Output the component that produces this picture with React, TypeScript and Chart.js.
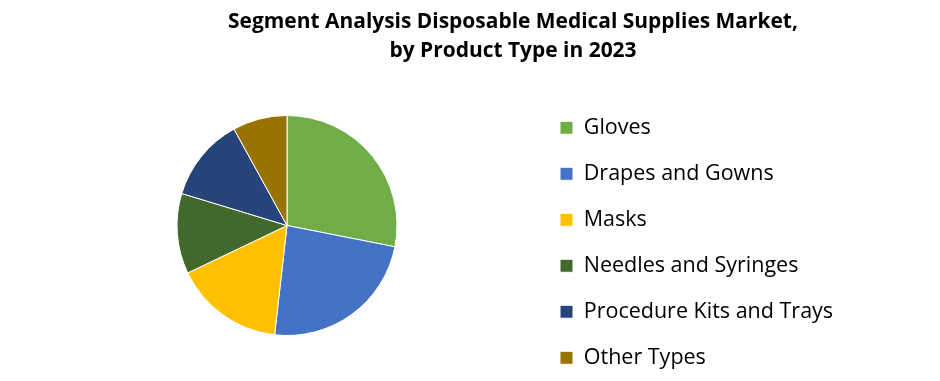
import { useEffect, useRef } from "react";
import { Chart, registerables } from "chart.js";

Chart.register(...registerables);

const TITLE_LINES = [
  "Segment Analysis Disposable Medical Supplies Market,",
  "by Product Type in 2023",
];
const CATEGORIES = [
  "Gloves",
  "Drapes and Gowns",
  "Masks",
  "Needles and Syringes",
  "Procedure Kits and Trays",
  "Other Types",
];
const SHARES = [28.1, 23.7, 16.1, 11.8, 12.3, 8.0];
const COLORS = ["#70AD47", "#4472C4", "#FFC000", "#43682B", "#264478", "#997300"];

const FONT = "'Open Sans', 'Noto Sans', sans-serif";

export default function App() {
  const ref = useRef<HTMLCanvasElement | null>(null);
  useEffect(() => {
    if (!ref.current) return;
    // measure fonts to fit the reference text widths
    const m = document.createElement("canvas").getContext("2d")!;
    m.font = `bold 20px ${FONT}`;
    const titleW = m.measureText(TITLE_LINES[0]).width;
    const titleSize = (20 * 570) / titleW;
    m.font = `20px ${FONT}`;
    const longest = Math.max(...CATEGORIES.map((c) => m.measureText(c).width));
    const F = Math.round((2 * 20 * 250) / longest) / 2;
    const P = 46 - F;
    m.font = `${F}px ${FONT}`;
    const textW = Math.max(...CATEGORIES.map((c) => m.measureText(c).width));
    const legendLeft = 560 - P;
    const padLeft = 574 - legendLeft;
    const legendW = Math.ceil(P + 13 + F / 2 + textW) + 2;
    const padRight = 940 - legendLeft - legendW;

    const titlePlugin = {
      id: "twoLineTitle",
      afterDraw(chart: any) {
        const ctx = chart.ctx;
        ctx.save();
        ctx.font = `bold ${titleSize}px ${FONT}`;
        ctx.fillStyle = "#000";
        ctx.textAlign = "center";
        ctx.textBaseline = "alphabetic";
        ctx.fillText(TITLE_LINES[0], 513, 28);
        ctx.fillText(TITLE_LINES[1], 513, 57);
        ctx.restore();
      },
    };

    const chart = new Chart(ref.current, {
      type: "pie",
      data: {
        labels: CATEGORIES,
        datasets: [
          {
            data: SHARES,
            backgroundColor: COLORS,
            borderColor: "#ffffff",
            borderWidth: 1,
            radius: 110,
          },
        ],
      },
      options: {
        responsive: false,
        animation: false,
        layout: { padding: { left: padLeft, right: padRight, top: 70, bottom: -12 } },
        plugins: {
          title: { display: false },
          tooltip: { enabled: false },
          legend: {
            position: "right",
            align: "end",
            maxWidth: legendW,
            labels: {
              boxWidth: 13,
              boxHeight: 13,
              padding: P,
              color: "#000",
              font: { family: FONT, size: F },
            },
          },
        },
      },
      plugins: [titlePlugin],
    });
    return () => chart.destroy();
  }, []);
  return (
    <div style={{ position: "fixed", left: 0, top: 0, width: 940, height: 381, background: "#fff" }}>
      <canvas ref={ref} width={940} height={381} style={{ display: "block" }} />
    </div>
  );
}
